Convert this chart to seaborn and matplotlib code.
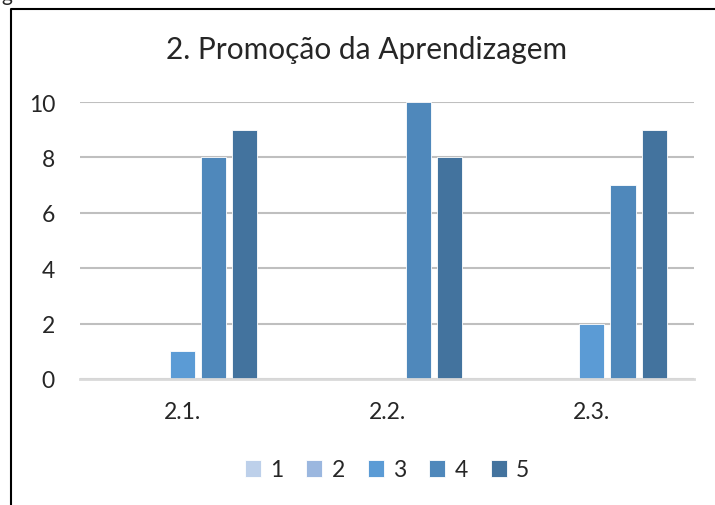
import numpy as np
import pandas as pd
import matplotlib.pyplot as plt
import seaborn as sns
from matplotlib.lines import Line2D

# dados do gráfico
categorias = ["2.1.", "2.2.", "2.3."]
niveis = ["1", "2", "3", "4", "5"]
valores_21 = [0, 0, 1, 8, 9]
valores_22 = [0, 0, 0, 10, 8]
valores_23 = [0, 0, 2, 7, 9]
titulo = "2. Promoção da Aprendizagem"
cores = ["#BDD0EA", "#9BB7DF", "#5B9BD5", "#4F88BB", "#43739E"]

df = pd.DataFrame({
    "cat": np.repeat(categorias, len(niveis)),
    "nivel": niveis * len(categorias),
    "valor": valores_21 + valores_22 + valores_23,
})

sns.set_style("white")
plt.rcParams["font.family"] = ["Lato", "DejaVu Sans"]

fig = plt.figure(figsize=(7.15, 5.06), dpi=100)
ax = fig.add_axes([80 / 715, 1 - 380 / 506, 614 / 715, 277 / 506])

sns.barplot(data=df, x="cat", y="valor", hue="nivel", palette=cores,
            width=0.765, gap=0.2, ax=ax, legend=True, saturation=1,
            edgecolor="white", linewidth=0.6)

ax.set_ylim(0, 10)
ax.set_xlim(-0.5, 2.5)
ax.set_yticks([0, 2, 4, 6, 8, 10])
ax.yaxis.grid(True, color="#BFBFBF", linewidth=1.5)
ax.set_axisbelow(True)
for s in ["top", "right", "left"]:
    ax.spines[s].set_visible(False)
ax.spines["bottom"].set_color("#D9D9D9")
ax.spines["bottom"].set_linewidth(2)
ax.set_xlabel("")
ax.set_ylabel("")
ax.tick_params(axis="y", length=0, pad=18, labelsize=16.5)
ax.tick_params(axis="x", length=0, pad=16, labelsize=16.5)

ax.legend(loc="center", bbox_to_anchor=(307 / 614, (380 - 471) / 277),
          ncol=5, frameon=False, fontsize=16.5, handlelength=0.7,
          handleheight=0.7, handletextpad=0.4, columnspacing=1.0)

fig.text(367 / 715, 1 - 50 / 506, titulo, ha="center", va="center", fontsize=21.5)

# moldura
fig.add_artist(Line2D([11 / 715, 11 / 715, 1], [0, 1 - 10 / 506, 1 - 10 / 506],
                      color="black", linewidth=1.5, transform=fig.transFigure))
fig.text(0.002, 1 - 5 / 506, "g", va="bottom", fontsize=15)

fig.savefig("out.png", dpi=100)
